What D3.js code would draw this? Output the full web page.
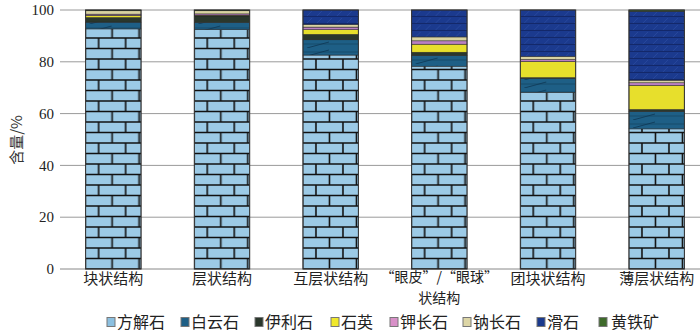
<!DOCTYPE html>
<html><head><meta charset="utf-8">
<script src="https://cdn.jsdelivr.net/npm/d3@7"></script>
<style>body{margin:0;background:#fff}svg{display:block}</style>
</head><body>
<svg id="c" width="700" height="333"></svg>
<script>
const categories = ["块状结构","层状结构","互层状结构","“眼皮”/“眼球”状结构","团块状结构","薄层状结构"];
const catLines = [["块状结构"],["层状结构"],["互层状结构"],["“眼皮”/“眼球”","状结构"],["团块状结构"],["薄层状结构"]];
const minerals = ["方解石","白云石","伊利石","石英","钾长石","钠长石","滑石","黄铁矿"];
const calcite  = [92.7, 92.4, 82.6, 78.3, 68.2, 54.1];
const dolomite = [2.6, 2.8, 5.9, 4.1, 5.4, 6.7];
const illite   = [1.8, 2.5, 2.1, 1.3, 0.3, 0.8];
const quartz   = [0.8, 0.3, 1.8, 3.1, 6.2, 9.3];
const kfeld    = [0.5, 0.5, 1.0, 1.3, 0.8, 1.0];
const albite   = [1.3, 1.2, 1.0, 1.5, 1.2, 1.0];
const talc     = [0.0, 0.0, 5.6, 10.4, 17.9, 26.6];
const pyrite   = [0.3, 0.3, 0.0, 0.0, 0.0, 0.5];
const yTicks = [0,20,40,60,80,100];
const colors = ["#9ccae6","#1e5f86","#2a372c","#e7df2c","#b97fc2","#d9d3a2","#1b3a8e","#3e6a2b"];
const legendColors = ["#8cc0e0","#1e5f86","#2a372c","#f0e82c","#d890c8","#ddd6a6","#1b3a8e","#3e6a2b"];

const series = [calcite,dolomite,illite,quartz,kfeld,albite,talc,pyrite];
const rows = categories.map((c,i)=>{const o={cat:c}; minerals.forEach((m,k)=>o[m]=series[k][i]); return o;});
const stack = d3.stack().keys(minerals)(rows);

const svg = d3.select("#c");
const x = d3.scaleBand().domain(categories).range([59,711]).paddingInner(0.49).paddingOuter(0.245);
const y = d3.scaleLinear().domain([0,100]).range([269,10]);
const defs = svg.append("defs");
const cjk = "'Noto Sans CJK SC','Noto Sans',sans-serif";

// patterns
categories.forEach((c,i)=>{
  const x0 = x(c);
  const p = defs.append("pattern").attr("id","calc"+i).attr("patternUnits","userSpaceOnUse")
    .attr("x",x0+13).attr("y",269).attr("width",54).attr("height",21);
  p.append("rect").attr("width",54).attr("height",21).attr("fill",colors[0]);
  const g = p.append("g").attr("stroke","#111").attr("stroke-width",1.6);
  g.append("line").attr("x1",0).attr("x2",54).attr("y1",0).attr("y2",0);
  g.append("line").attr("x1",0).attr("x2",54).attr("y1",10.5).attr("y2",10.5);
  g.append("line").attr("x1",0).attr("x2",54).attr("y1",21).attr("y2",21);
  [0,27,54].forEach(v=>g.append("line").attr("x1",v).attr("x2",v).attr("y1",0).attr("y2",10.5));
  [13.5,40.5].forEach(v=>g.append("line").attr("x1",v).attr("x2",v).attr("y1",10.5).attr("y2",21));

  const d = defs.append("pattern").attr("id","dolo"+i).attr("patternUnits","userSpaceOnUse")
    .attr("x",x0).attr("y",0).attr("width",56).attr("height",8);
  d.append("rect").attr("width",56).attr("height",8).attr("fill",colors[1]);
  d.append("line").attr("x1",0).attr("x2",56).attr("y1",4).attr("y2",4).attr("stroke","#154a6b").attr("stroke-width",1.2);
  d.append("line").attr("x1",4).attr("x2",26).attr("y1",8).attr("y2",2).attr("stroke","#0f3a58").attr("stroke-width",0.9);

  const t = defs.append("pattern").attr("id","talc"+i).attr("patternUnits","userSpaceOnUse")
    .attr("x",x0).attr("y",10).attr("width",20).attr("height",7);
  t.append("rect").attr("width",20).attr("height",7).attr("fill",colors[6]);
  t.append("line").attr("x1",0).attr("x2",20).attr("y1",6.5).attr("y2",6.5).attr("stroke","#13286a").attr("stroke-width",1.2);
  t.append("line").attr("x1",4).attr("x2",9).attr("y1",6).attr("y2",1).attr("stroke","#2a4aa0").attr("stroke-width",0.8);
  t.append("line").attr("x1",14).attr("x2",19).attr("y1",6).attr("y2",1).attr("stroke","#2a4aa0").attr("stroke-width",0.8);
});

// grid
svg.append("g").selectAll("line").data(yTicks).join("line")
  .attr("x1",60).attr("x2",700).attr("y1",d=>y(d)).attr("y2",d=>y(d))
  .attr("stroke",d=>d===0?"#888":"#9a9a9a").attr("stroke-width",1);

// y tick labels
svg.append("g").selectAll("text").data(yTicks).join("text")
  .attr("x",54).attr("y",d=>y(d)).attr("dy","0.35em").attr("text-anchor","end")
  .attr("font-family","'Liberation Serif','DejaVu Serif',serif").attr("font-size",15).attr("fill","#222")
  .text(d=>d);

svg.append("text").attr("transform","translate(17,140) rotate(-90)").attr("text-anchor","middle")
  .attr("dy","0.35em").attr("font-family",cjk).attr("font-size",15).attr("fill","#333").text("含量/%");

// bars
stack.forEach((s,k)=>{
  svg.append("g").selectAll("rect").data(s).join("rect")
    .attr("x",d=>x(d.data.cat)).attr("width",x.bandwidth())
    .attr("y",d=>y(d[1])).attr("height",d=>Math.max(0,y(d[0])-y(d[1])))
    .attr("fill",(d,i)=>k===0?`url(#calc${i})`:k===1?`url(#dolo${i})`:k===6?`url(#talc${i})`:colors[k])
    .attr("stroke",d=>(d[1]-d[0])>0?"#222":"none").attr("stroke-width",0.5);
});
svg.append("g").selectAll("rect").data(categories).join("rect")
  .attr("x",d=>x(d)).attr("width",x.bandwidth()).attr("y",y(100)).attr("height",y(0)-y(100))
  .attr("fill","none").attr("stroke","#333").attr("stroke-width",1);

// x labels (each line a separate text)
const xlData = [];
categories.forEach((c,i)=>catLines[i].forEach((t,j)=>xlData.push({c,t,j,n:catLines[i].length})));
svg.append("g").selectAll("text").data(xlData).join("text")
  .attr("x",d=>x(d.c)+x.bandwidth()/2).attr("y",d=>d.n>1?(277.5+d.j*20.5):279).attr("dy","0.35em")
  .attr("text-anchor","middle").attr("font-family",cjk).attr("font-size",d=>d.n>1?14:15).attr("fill","#222")
  .text(d=>d.t);

// legend
const legX = [107,181,255,331,390,463,537,599];
const lg = svg.append("g").selectAll("g").data(minerals).join("g")
  .attr("transform",(d,i)=>`translate(${legX[i]},322)`);
lg.append("rect").attr("x",0).attr("y",-4.5).attr("width",8).attr("height",9)
  .attr("fill",(d,i)=>legendColors[i]).attr("stroke","#777").attr("stroke-width",1);
lg.append("text").attr("x",(d,i)=>i===7?12:10).attr("y",0).attr("dy","0.35em")
  .attr("font-family",cjk).attr("font-size",16).attr("fill","#222").text(d=>d);
</script>
</body></html>
